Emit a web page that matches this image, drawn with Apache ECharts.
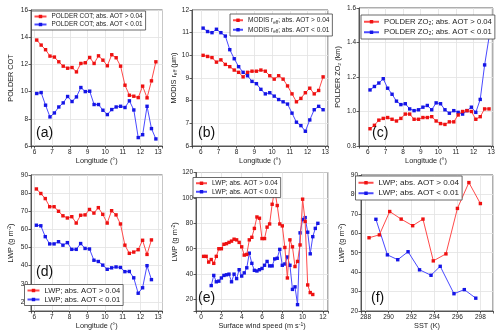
<!DOCTYPE html>
<html><head><meta charset="utf-8">
<script src="https://cdn.jsdelivr.net/npm/echarts@6/dist/echarts.min.js"></script>
<style>html,body{margin:0;padding:0;background:#fff}#c{width:500px;height:335px}</style>
</head><body><div id="c"></div>
<script>
// ---- data ----
const lon = [6.125, 6.375, 6.625, 6.875, 7.125, 7.375, 7.625, 7.875, 8.125, 8.375, 8.625, 8.875, 9.125, 9.375, 9.625, 9.875, 10.125, 10.375, 10.625, 10.875, 11.125, 11.375, 11.625, 11.875, 12.125, 12.375, 12.625, 12.875];
const lonD = [6.125, 6.375, 6.625, 6.875, 7.125, 7.375, 7.625, 7.875, 8.125, 8.375, 8.625, 8.875, 9.125, 9.375, 9.625, 9.875, 10.125, 10.375, 10.625, 10.875, 11.125, 11.375, 11.625, 11.875, 12.125, 12.375, 12.625];
const cotHigh = [13.79, 13.42, 13.08, 12.61, 12.54, 12.19, 11.87, 11.72, 11.77, 11.45, 12.07, 12.12, 12.51, 12.07, 12.63, 12.31, 11.90, 12.71, 12.49, 11.87, 10.47, 9.73, 9.66, 9.56, 10.40, 9.54, 10.79, 12.19];
const cotLow = [9.86, 9.93, 9.0, 8.14, 8.43, 8.87, 9.17, 9.64, 9.27, 9.61, 10.30, 10.0, 10.03, 9.05, 9.05, 8.63, 8.31, 8.68, 8.87, 8.92, 8.83, 9.32, 8.65, 6.62, 6.83, 8.92, 7.28, 6.52];
const reffHigh = [10.0, 9.95, 9.9, 9.7, 9.8, 9.6, 9.5, 9.35, 9.25, 9.05, 9.25, 9.3, 9.3, 9.35, 9.3, 9.1, 8.95, 9.1, 8.95, 8.65, 8.3, 7.95, 8.1, 8.35, 8.55, 8.3, 8.45, 9.05];
const reffLow = [11.2, 11.05, 11.0, 11.15, 11.0, 10.85, 10.25, 9.85, 9.5, 9.25, 9.1, 8.85, 8.75, 8.5, 8.3, 8.35, 8.2, 8.05, 7.95, 7.85, 7.45, 7.05, 6.9, 6.65, 7.15, 7.6, 7.75, 7.6];
const zoHigh = [0.90, 0.92, 0.95, 0.96, 0.965, 0.955, 0.945, 0.96, 0.985, 0.985, 0.955, 0.955, 0.965, 0.965, 0.97, 0.945, 0.93, 0.925, 0.94, 0.94, 0.98, 1.0, 1.005, 1.0, 0.955, 0.97, 1.015, 1.015];
const zoLow = [1.125, 1.145, 1.165, 1.19, 1.135, 1.10, 1.06, 1.04, 1.045, 1.015, 1.005, 1.01, 1.025, 1.035, 1.01, 1.05, 1.045, 1.01, 0.99, 1.005, 0.995, 0.985, 1.005, 1.025, 0.995, 1.07, 1.27, 1.43];
const lwpLonHigh = [82.3, 79.8, 77, 72.5, 72.5, 70, 67.5, 66.3, 67, 63.5, 67.8, 68, 71, 69, 72, 68.3, 63.5, 70.3, 68, 63, 51.3, 46.8, 47.5, 48.8, 54, 46.2, 54.2];
const lwpLonLow = [62.3, 62, 56, 52, 52, 53.2, 51.3, 52.7, 49, 49, 52.2, 49.5, 49.2, 43, 42.3, 40.3, 38, 38.8, 39.3, 39, 36.7, 36.8, 33.3, 24.8, 27.8, 40, 32.3];
const windHigh = [0.25, 0.5, 0.75, 1, 1.25, 1.5, 1.75, 2, 2.25, 2.5, 2.75, 3, 3.25, 3.5, 3.75, 4, 4.25, 4.5, 4.75, 5, 5.25, 5.5, 5.75, 6, 6.25, 6.5, 6.75, 7, 7.25, 7.5, 7.75, 8, 8.25, 8.5, 8.75, 9, 9.25, 9.5, 9.75, 10, 10.25, 10.5, 10.75, 11];
const lwpWindHigh = [54, 54, 49.5, 51.5, 48.5, 54, 60, 60, 63.5, 64, 65, 66, 67.5, 67, 65, 61.5, 55, 55.5, 67, 69, 76, 85, 84, 68, 68, 77, 79.5, 95, 106.5, 94, 79.5, 78, 61, 37, 67, 61.5, 46, 50, 63, 99, 81.5, 31.5, 25.5, 24];
const windLow = [1, 1.25, 1.5, 1.75, 2, 2.25, 2.5, 2.75, 3, 3.25, 3.5, 3.75, 4, 4.25, 4.5, 4.75, 5, 5.25, 5.5, 5.75, 6, 6.25, 6.5, 6.75, 7, 7.25, 7.5, 7.75, 8, 8.25, 8.5, 8.75, 9, 9.25, 9.5, 9.75, 10, 10.25, 10.5, 10.75, 11, 11.25, 11.5];
const lwpWindLow = [31, 39, 34, 34.5, 37, 39, 39.5, 40, 34, 40, 36.5, 43.5, 38.5, 41, 45, 56.5, 48.5, 43, 42.5, 43.5, 44.5, 47, 50, 46.5, 46.5, 52, 52.5, 59.5, 47, 48, 53.5, 47, 28, 30, 16, 72.5, 83, 84.5, 73, 56, 69.5, 76, 80];
const sstHigh = [288.3, 289.2, 290.1, 291.1, 292.1, 293.0, 293.9, 295.0, 296.0, 297.0, 298.0];
const lwpSstHigh = [57.7, 59.2, 71.2, 67.3, 63.9, 67.3, 45.8, 49.4, 72.8, 86.1, 75.3];
const sstLow = [288.9, 289.9, 290.8, 291.7, 292.7, 293.7, 294.5, 295.7, 296.6, 297.6];
const lwpSstLow = [67.2, 48.9, 46.4, 50.5, 41.2, 38.4, 43.0, 28.9, 31.0, 26.6];
const panelLabels = ['(a)', '(b)', '(c)', '(d)', '(e)', '(f)'];

// ---- styles ----
const FONT = 'Liberation Sans, Arial, sans-serif';
const RED_LINE = '#ff4a4a', RED_MK = '#ee1111';
const BLUE_LINE = '#4a4aff', BLUE_MK = '#1515e6';
const AX = '#333';
const RICH = {
  s: {fontSize: 5, verticalAlign: 'bottom', fontFamily: FONT},
  p: {fontSize: 5, verticalAlign: 'top', fontFamily: FONT}
};

const grids = [
  {left: 31, top: 10, width: 131.5, height: 136},
  {left: 192, top: 10, width: 136, height: 136},
  {left: 359, top: 8, width: 134, height: 138},
  {left: 31, top: 175, width: 131.5, height: 136},
  {left: 196, top: 172.5, width: 132, height: 138.5},
  {left: 361, top: 175, width: 132, height: 136}
].map(g => Object.assign({show: true, borderColor: AX, borderWidth: 0.8, backgroundColor: '#fff', outerBoundsMode: 'none', containLabel: false}, g));

function isTick(v, step) { return Math.abs(v / step - Math.round(v / step)) < 1e-6; }

function axis(gi, min, max, step, name, gap, isY, dec) {
  return {
    type: 'value', gridIndex: gi, min: min, max: max,
    splitNumber: Math.round((max - min) / step), minInterval: step, maxInterval: step,
    name: name, nameLocation: 'middle', nameGap: gap, nameRotate: isY ? 90 : 0,
    nameTextStyle: {fontSize: 7.3, color: '#222', fontFamily: FONT, rich: RICH},
    axisLine: {show: true, onZero: false, lineStyle: {color: AX, width: 0.8}},
    axisTick: {show: true, inside: false, length: 2.5, lineStyle: {color: AX, width: 0.8}},
    axisLabel: {fontSize: 6.5, color: '#222', fontFamily: FONT, margin: 3,
      formatter: v => isTick(v, step) ? (dec ? v.toFixed(dec) : String(Math.round(v))) : ''},
    splitLine: {show: true, lineStyle: {color: '#e2e2e2', width: 0.8}}
  };
}

const xAxis = [
  axis(0, 5.8, 13.25, 1, 'Longitude (°)', 11, false),
  axis(1, 5.5, 13.15, 1, 'Longitude (°)', 11, false),
  axis(2, 5.5, 13.1, 1, 'Longitude (°)', 11, false),
  axis(3, 5.82, 13.25, 1, 'Longitude (°)', 11, false),
  axis(4, -0.5, 12.5, 2, 'Surface wind speed (m s{p|-1})', 11, false),
  axis(5, 287.6, 299.1, 2, 'SST (K)', 11, false)
];
const yAxis = [
  axis(0, 6, 16, 2, 'POLDER COT', 17, true),
  axis(1, 6, 12, 1, 'MODIS r{s|eff} (μm)', 13, true),
  axis(2, 0.8, 1.6, 0.2, 'POLDER ZO₂ (km)', 18, true, 1),
  axis(3, 15, 90, 10, 'LWP (g m{p|-2})', 17, true),
  axis(4, 11, 120, 20, 'LWP (g m{p|-2})', 16, true),
  axis(5, 20, 90, 10, 'LWP (g m{p|-2})', 16, true)
];

function line(id, gi, xs, ys, high) {
  return {
    type: 'line', name: id, xAxisIndex: gi, yAxisIndex: gi,
    data: xs.map((x, i) => [x, ys[i]]),
    symbol: 'rect', symbolSize: 3.4, showSymbol: true,
    lineStyle: {color: high ? RED_LINE : BLUE_LINE, width: 1},
    itemStyle: {color: high ? RED_MK : BLUE_MK},
    animation: false, z: high ? 3 : 2
  };
}
const series = [
  line('a1', 0, lon, cotHigh, true), line('a2', 0, lon, cotLow, false),
  line('b1', 1, lon, reffHigh, true), line('b2', 1, lon, reffLow, false),
  line('c1', 2, lon, zoHigh, true), line('c2', 2, lon, zoLow, false),
  line('d1', 3, lonD, lwpLonHigh, true), line('d2', 3, lonD, lwpLonLow, false),
  line('e1', 4, windHigh, lwpWindHigh, true), line('e2', 4, windLow, lwpWindLow, false),
  line('f1', 5, sstHigh, lwpSstHigh, true), line('f2', 5, sstLow, lwpSstLow, false)
];

const legendText = {
  a1: 'POLDER COT; abs. AOT > 0.04', a2: 'POLDER COT; abs. AOT < 0.01',
  b1: 'MODIS r{s|eff}; abs. AOT > 0.04', b2: 'MODIS r{s|eff}; abs. AOT < 0.01',
  c1: 'POLDER ZO₂; abs. AOT > 0.04', c2: 'POLDER ZO₂; abs. AOT < 0.01',
  d1: 'LWP; abs. AOT > 0.04', d2: 'LWP; abs. AOT < 0.01',
  e1: 'LWP; abs. AOT > 0.04', e2: 'LWP; abs. AOT < 0.01',
  f1: 'LWP; abs. AOT > 0.04', f2: 'LWP; abs. AOT < 0.01'
};
function legend(p, left, top, fs, lh, iw) {
  return {
    data: [p + '1', p + '2'], left: left, top: top, orient: 'vertical',
    itemWidth: iw, itemHeight: 4.3, itemGap: 0, padding: [1.5, 3, 1.5, 2],
    borderColor: '#444', borderWidth: 0.8, backgroundColor: '#fff', borderRadius: 0,
    selectedMode: false, formatter: n => legendText[n],
    textStyle: {fontSize: fs, lineHeight: lh, color: '#222', fontFamily: FONT, rich: {
      s: {fontSize: fs * 0.7, verticalAlign: 'bottom', lineHeight: lh, fontFamily: FONT}
    }}
  };
}
const legends = [
  legend('a', 31.5, 11, 6.4, 8, 12),
  legend('b', 230, 14, 6.5, 9.5, 10),
  legend('c', 361, 15, 7.7, 10.5, 15),
  legend('d', 24.5, 284.5, 7.6, 9, 12),
  legend('e', 193, 177.5, 6.6, 8.5, 11),
  legend('f', 355.5, 176, 8.1, 10.5, 15)
];

const labelPos = [[36, 126], [198, 126], [372, 126], [36, 265], [198, 291], [371, 291]];
const graphic = panelLabels.map((t, i) => ({
  type: 'text', left: labelPos[i][0], top: labelPos[i][1], z: 100,
  style: {text: t, fontSize: 14, fontFamily: FONT, fill: '#111'}
}));

const chart = echarts.init(document.getElementById('c'), null, {renderer: 'canvas'});
chart.setOption({
  backgroundColor: '#fff', animation: false,
  textStyle: {fontFamily: FONT},
  grid: grids, xAxis: xAxis, yAxis: yAxis, series: series, legend: legends, graphic: graphic
});
</script></body></html>
